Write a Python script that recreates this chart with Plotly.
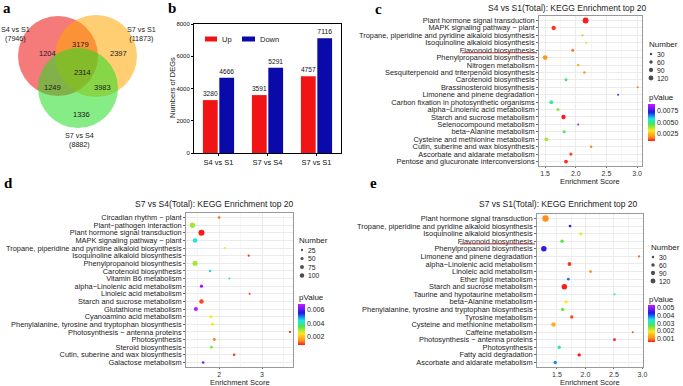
import plotly.graph_objects as go

W, H = 683, 386

# ---------------- data ----------------
venn_names = ["S4 vs S1", "S7 vs S1", "S7 vs S4"]
venn_totals = [7946, 11873, 8882]
# regions: only A, only B, only C, A&B, A&C, B&C, A&B&C
venn_counts = [1204, 2397, 1336, 3179, 1249, 3983, 2314]

deg_groups = ["S4 vs S1", "S7 vs S4", "S7 vs S1"]
deg_up = [3280, 3591, 4757]
deg_down = [4666, 5291, 7116]

c_terms = ["Plant hormone signal transduction", "MAPK signaling pathway \u2212 plant",
           "Tropane, piperidine and pyridine alkaloid biosynthesis", "Isoquinoline alkaloid biosynthesis",
           "Flavonoid biosynthesis", "Phenylpropanoid biosynthesis", "Nitrogen metabolism",
           "Sesquiterpenoid and triterpenoid biosynthesis", "Carotenoid biosynthesis",
           "Brassinosteroid biosynthesis", "Limonene and pinene degradation",
           "Carbon fixation in photosynthetic organisms", "alpha\u2212Linolenic acid metabolism",
           "Starch and sucrose metabolism", "Selenocompound metabolism", "beta\u2212Alanine metabolism",
           "Cysteine and methionine metabolism", "Cutin, suberine and wax biosynthesis",
           "Ascorbate and aldarate metabolism", "Pentose and glucuronate interconversions"]
c_score = [2.16, 1.64, 2.11, 2.17, 1.95, 1.50, 2.04, 2.14, 1.84, 3.01,
           2.69, 1.60, 1.71, 1.80, 2.04, 1.81, 1.52, 2.25, 1.92, 1.84]
c_count = [170, 95, 26, 24, 45, 115, 32, 28, 45, 12,
           8, 70, 48, 95, 18, 45, 70, 30, 48, 68]
c_pvalue = [0.0008, 0.0010, 0.0037, 0.0033, 0.0015, 0.0018, 0.0022, 0.0017, 0.0048, 0.0015,
            0.0080, 0.0052, 0.0040, 0.0008, 0.0085, 0.0045, 0.0038, 0.0016, 0.0011, 0.0009]

d_terms = ["Circadian rhythm \u2212 plant", "Plant\u2212pathogen interaction", "Plant hormone signal transduction",
           "MAPK signaling pathway \u2212 plant", "Tropane, piperidine and pyridine alkaloid biosynthesis",
           "Isoquinoline alkaloid biosynthesis", "Phenylpropanoid biosynthesis", "Carotenoid biosynthesis",
           "Vitamin B6 metabolism", "alpha\u2212Linolenic acid metabolism", "Linoleic acid metabolism",
           "Starch and sucrose metabolism", "Glutathione metabolism", "Cyanoamino acid metabolism",
           "Phenylalanine, tyrosine and tryptophan biosynthesis", "Photosynthesis \u2212 antenna proteins",
           "Photosynthesis", "Steroid biosynthesis", "Cutin, suberine and wax biosynthesis", "Galactose metabolism"]
d_score = [2.00, 1.38, 1.59, 1.44, 2.13, 2.69, 1.44, 1.79, 2.24, 1.59,
           2.71, 1.59, 1.46, 1.81, 1.85, 3.65, 1.89, 1.82, 2.35, 1.63]
d_count = [33, 147, 180, 100, 18, 24, 127, 33, 13, 50,
           18, 100, 84, 45, 41, 24, 41, 41, 33, 33]
d_pvalue = [0.0012, 0.0030, 0.00075, 0.0044, 0.0026, 0.0009, 0.0030, 0.0045, 0.0040, 0.0065,
            0.0009, 0.0010, 0.0068, 0.0025, 0.0025, 0.0008, 0.0013, 0.0032, 0.0009, 0.0063]

e_terms = ["Plant hormone signal transduction", "Tropane, piperidine and pyridine alkaloid biosynthesis",
           "Isoquinoline alkaloid biosynthesis", "Flavonoid biosynthesis", "Phenylpropanoid biosynthesis",
           "Limonene and pinene degradation", "alpha\u2212Linolenic acid metabolism", "Linoleic acid metabolism",
           "Ether lipid metabolism", "Starch and sucrose metabolism", "Taurine and hypotaurine metabolism",
           "beta\u2212Alanine metabolism", "Phenylalanine, tyrosine and tryptophan biosynthesis",
           "Tyrosine metabolism", "Cysteine and methionine metabolism", "Caffeine metabolism",
           "Photosynthesis \u2212 antenna proteins", "Photosynthesis", "Fatty acid degradation",
           "Ascorbate and aldarate metabolism"]
e_score = [1.30, 1.73, 1.92, 1.59, 1.27, 2.94, 1.72, 2.09, 1.70, 1.63,
           2.51, 1.66, 1.60, 1.76, 1.44, 2.83, 2.51, 1.54, 1.89, 1.47]
e_count = [200, 38, 48, 58, 150, 22, 72, 38, 38, 150,
           22, 58, 58, 58, 100, 9, 38, 58, 58, 58]
e_pvalue = [0.0011, 0.0045, 0.0020, 0.0027, 0.0044, 0.0009, 0.0007, 0.0011, 0.0039, 0.0006,
            0.0032, 0.0019, 0.0026, 0.0008, 0.0014, 0.0008, 0.0006, 0.0032, 0.0006, 0.0038]

size_breaks_ce = [30, 60, 90, 120]
size_breaks_d = [25, 50, 75, 100]

# ---------------- helpers ----------------
def X(px):
    return px / W


def Y(py):
    return 1 - py / H


FONT = "Liberation Sans"
K = 0.45                     # diameter = K * sqrt(count)
SIZEREF = 2.0 / (K * K)
CSCALE = [[0, "#FF1A1A"], [0.1, "#FF8C1A"], [0.28, "#FFE61A"], [0.45, "#4DE64D"],
          [0.6, "#1AE6E6"], [0.78, "#1A1AE6"], [1, "#CC1AFF"]]

fig = go.Figure()

# ---------------- panel b : bars ----------------
fig.add_trace(go.Bar(x=deg_groups, y=deg_up, name="Up", marker=dict(color="#F01414", line=dict(width=0)),
                     text=deg_up, textposition="outside", textfont=dict(size=7, color="#111"),
                     cliponaxis=False, xaxis="x", yaxis="y"))
fig.add_trace(go.Bar(x=deg_groups, y=deg_down, name="Down", marker=dict(color="#0A0AAA", line=dict(width=0)),
                     text=deg_down, textposition="outside", textfont=dict(size=7, color="#111"),
                     cliponaxis=False, xaxis="x", yaxis="y"))


def dots(terms, score, count, pval, xa, ya, cax):
    fig.add_trace(go.Scatter(x=score, y=terms, mode="markers", xaxis=xa, yaxis=ya, cliponaxis=False,
                             marker=dict(size=count, sizemode="area", sizeref=SIZEREF, sizemin=1,
                                         color=pval, coloraxis=cax, line=dict(width=0), opacity=1)))


dots(c_terms, c_score, c_count, c_pvalue, "x2", "y2", "coloraxis")
dots(d_terms, d_score, d_count, d_pvalue, "x3", "y3", "coloraxis2")
dots(e_terms, e_score, e_count, e_pvalue, "x4", "y4", "coloraxis3")

LEG_C = [54, 62, 70, 78]
LEG_D = [250, 258.5, 267, 275.5]
LEG_E = [257, 265, 273, 281]


# size legends on the pixel overlay axis
def size_legend(breaks, xdot, ys):
    fig.add_trace(go.Scatter(x=[xdot] * len(breaks), y=ys, mode="markers", xaxis="x5", yaxis="y5",
                             cliponaxis=False,
                             marker=dict(size=breaks, sizemode="area", sizeref=SIZEREF, color="black",
                                         line=dict(width=0))))


size_legend(size_breaks_ce, 651, LEG_C)
size_legend(size_breaks_d, 302, LEG_D)
size_legend(size_breaks_ce, 653, LEG_E)

ann = []
shapes = []


def txt(x, y, s, size=7.5, xanchor="center", color="#1a1a1a", family=FONT, **kw):
    ann.append(dict(x=x, y=y, xref="x5", yref="y5", text=s, showarrow=False, xanchor=xanchor,
                    yanchor="middle", font=dict(size=size, color=color, family=family), **kw))


for lab, ys, xl in [(size_breaks_ce, LEG_C, 655), (size_breaks_d, LEG_D, 306), (size_breaks_ce, LEG_E, 657)]:
    for v, yy in zip(lab, ys):
        txt(xl, yy, str(v), size=6.8, xanchor="left")

txt(647, 44, "Number", size=8, xanchor="left")
txt(647, 97, "pValue", size=8, xanchor="left")
txt(297, 240, "Number", size=8, xanchor="left")
txt(297, 297, "pValue", size=8, xanchor="left")
txt(649, 247, "Number", size=8, xanchor="left")
txt(647, 299, "pValue", size=8, xanchor="left")

# ---------------- panel a : venn ----------------
circles = [((58, 56), 40, "rgba(238,34,34,0.6)"),
           ((96, 56), 41, "rgba(255,165,0,0.55)"),
           ((78, 88), 40, "rgba(34,221,34,0.55)")]
for (cx, cy), r, col in circles:
    shapes.append(dict(type="circle", xref="x5", yref="y5", x0=cx - r, x1=cx + r, y0=cy - r, y1=cy + r,
                       fillcolor=col, line=dict(width=0), layer="below"))

venn_pos = [(47, 53), (118, 53), (81, 114), (80, 44), (52, 87), (102, 87), (82, 72)]
for (px, py), v in zip(venn_pos, venn_counts):
    txt(px, py, str(v), size=7.5)
for (px, py), n, t in zip([(15, 34), (141, 34), (79, 140)], venn_names, venn_totals):
    ann.append(dict(x=px, y=py, xref="x5", yref="y5", text="%s<br>(%d)" % (n, t), showarrow=False,
                    xanchor="center", yanchor="middle", align="center",
                    font=dict(size=7.2, color="#1a1a1a", family=FONT)))

# ---------------- panel letters ----------------
for s, x, y in [("a", 7, 8), ("b", 172, 8), ("c", 378, 9), ("d", 8, 183), ("e", 373, 183)]:
    txt(x, y, "<b>%s</b>" % s, size=15, family="Liberation Serif", color="black")

# ---------------- panel b legend & labels ----------------
shapes.append(dict(type="rect", xref="x5", yref="y5", x0=205, x1=217, y0=36.5, y1=41.5,
                   fillcolor="#F01414", line=dict(width=0)))
shapes.append(dict(type="rect", xref="x5", yref="y5", x0=242, x1=255, y0=36.5, y1=41.5,
                   fillcolor="#0A0AAA", line=dict(width=0)))
txt(220, 39, "Up", size=7.5, xanchor="left")
txt(258, 39, "Down", size=7.5, xanchor="left")
txt(172, 88, "Numbers of DEGs", size=7.5, textangle=-90)

# ---------------- dot-plot titles ----------------
txt(567, 8, "S4 vs S1(Total): KEGG Enrichment top 20", size=8.5)
txt(214, 204, "S7 vs S4(Total): KEGG Enrichment top 20", size=8.5)
txt(558, 204, "S7 vs S1(Total): KEGG Enrichment top 20", size=8.5)
txt(590, 181.5, "Enrichment Score", size=7.5)
txt(240, 382, "Enrichment Score", size=7.5)
txt(590, 382, "Enrichment Score", size=7.5)

# flavonoid underlines
shapes.append(dict(type="line", xref="paper", yref="y2", x0=X(462), x1=X(537), y0=4.35, y1=4.35,
                   line=dict(color="#B03030", width=1)))
shapes.append(dict(type="line", xref="paper", yref="y4", x0=X(460), x1=X(535), y0=3.35, y1=3.35,
                   line=dict(color="#B03030", width=1)))


# ---------------- axes ----------------
def cat_y(domain_px, cats):
    return dict(domain=[Y(domain_px[1]), Y(domain_px[0])], type="category", categoryarray=cats,
                tickmode="array", tickvals=cats, ticktext=cats,
                range=[len(cats) - 0.4, -0.6], showgrid=True, gridcolor="#EBEBEB", gridwidth=0.8,
                showline=True, mirror=True, linecolor="#999", linewidth=0.8, ticks="outside", ticklen=2,
                tickcolor="#666", tickfont=dict(size=7.4, color="#1a1a1a", family=FONT), zeroline=False)


def num_x(domain_px, rng, dtick, fmt, minor_dtick, anchor):
    return dict(domain=[X(domain_px[0]), X(domain_px[1])], range=rng, dtick=dtick, tickformat=fmt,
                showgrid=True, gridcolor="#EBEBEB", gridwidth=0.8,
                minor=dict(dtick=minor_dtick, showgrid=True, gridcolor="#F5F5F5", gridwidth=0.6),
                showline=True, mirror=True, linecolor="#999", linewidth=0.8, ticks="outside", ticklen=1,
                tickcolor="#666", tickfont=dict(size=7, color="#333", family=FONT), zeroline=False,
                anchor=anchor)


def cbar(x0, y0, y1, vals, fmt):
    return dict(x=X(x0), xanchor="left", y=Y((y0 + y1) / 2), yanchor="middle", lenmode="pixels",
                len=y1 - y0, thicknessmode="pixels", thickness=7, outlinewidth=0, xpad=0, ypad=0,
                tickvals=vals, tickformat=fmt, ticks="", ticklabelposition="outside",
                tickfont=dict(size=7, color="#1a1a1a", family=FONT))


fig.update_layout(
    width=W, height=H, margin=dict(l=0, r=0, t=0, b=0, autoexpand=False),
    paper_bgcolor="white", plot_bgcolor="rgba(0,0,0,0)", showlegend=False,
    font=dict(family=FONT, size=7.5, color="#1a1a1a"),
    barmode="group", bargap=0.33, bargroupgap=0.1,
    xaxis=dict(domain=[X(194), X(341)], anchor="y", showline=True, mirror=True, linecolor="black",
               linewidth=1, ticks="outside", ticklen=2, tickcolor="black",
               tickfont=dict(size=7.5, color="#111")),
    yaxis=dict(domain=[Y(153), Y(24)], anchor="x", range=[0, 8000], dtick=2000, showline=True, mirror=True,
               linecolor="black", linewidth=1, ticks="outside", ticklen=2, tickcolor="black", showgrid=False,
               zeroline=False, tickfont=dict(size=6, color="#111")),
    xaxis2=num_x((539, 642), [1.40, 3.08], 0.5, ".1f", 0.25, "y2"),
    yaxis2=dict(cat_y((16, 166), c_terms), anchor="x2"),
    xaxis3=num_x((186, 293), [1.23, 3.72], 1, "d", 0.5, "y3"),
    yaxis3=dict(cat_y((213, 367), d_terms), anchor="x3"),
    xaxis4=num_x((537, 643), [1.15, 3.01], 0.5, ".1f", 0.25, "y4"),
    yaxis4=dict(cat_y((214, 367), e_terms), anchor="x4"),
    xaxis5=dict(domain=[0, 1], range=[0, W], visible=False, anchor="y5", fixedrange=True),
    yaxis5=dict(domain=[0, 1], range=[H, 0], visible=False, anchor="x5", fixedrange=True),
    coloraxis=dict(colorscale=CSCALE, cmin=0.0008, cmax=0.009,
                   colorbar=cbar(648, 104, 141, [0.0025, 0.005, 0.0075], ".4f")),
    coloraxis2=dict(colorscale=CSCALE, cmin=0.00075, cmax=0.0069,
                    colorbar=cbar(298, 304, 345, [0.002, 0.004, 0.006], ".3f")),
    coloraxis3=dict(colorscale=CSCALE, cmin=0.0006, cmax=0.0053,
                    colorbar=cbar(648, 305, 342, [0.001, 0.002, 0.003, 0.004, 0.005], ".3f")),
    annotations=ann, shapes=shapes,
)

fig.write_html("out.html", config={"displayModeBar": False},
               post_script="document.body.style.margin='0';")
